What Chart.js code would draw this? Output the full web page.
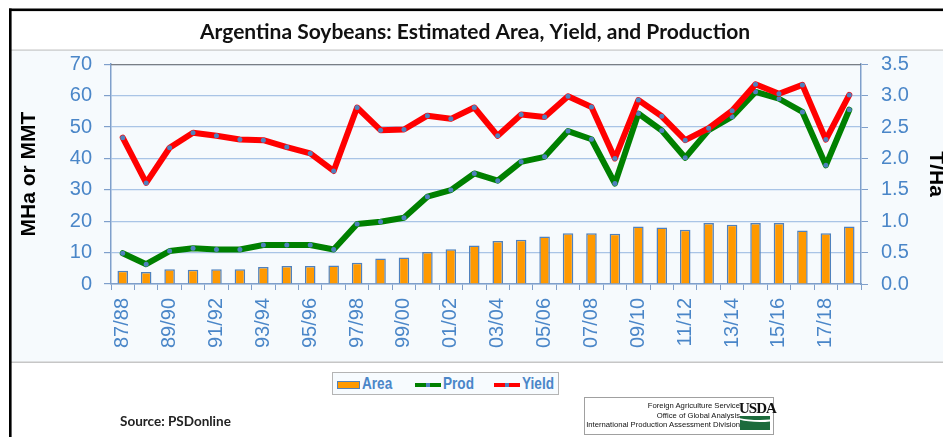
<!DOCTYPE html>
<html>
<head>
<meta charset="utf-8">
<script src="https://cdn.jsdelivr.net/npm/chart.js@4.4.1/dist/chart.umd.min.js"></script>
<style>
  html, body { margin: 0; padding: 0; overflow: hidden; background: #fff; }
  #wrap { position: relative; width: 943px; height: 437px; overflow: hidden; }
  #chart { position: absolute; left: 0; top: 0; }
  #legend {
    position: absolute; left: 332px; top: 372px; width: 225px; height: 21px;
    border: 1px solid #b4b4b4; background: #f7fbfe;
    font: bold 17px "Liberation Sans", Arial, sans-serif; color: #4a86c8;
  }
  #legend .item { position: absolute; top: 0; height: 21px; line-height: 21px; white-space: nowrap; }
  #legend .sw { display: inline-block; vertical-align: middle; margin-right: 2px; }
  #legend .lbl { display: inline-block; transform: scaleX(0.8); transform-origin: left center; }
  #source {
    position: absolute; left: 120px; top: 413px;
    font: bold 13.5px Lato, "Open Sans", sans-serif; color: #222;
  }
  #usda {
    position: absolute; left: 584px; top: 397px; width: 188px; height: 36px;
    border: 1px solid #a0a0a0; background: #fff;
  }
  #usda .txt {
    position: absolute; right: 33px; top: 3px; text-align: right;
    font: 7.7px/9.5px "Liberation Sans", Arial, sans-serif; color: #111; white-space: nowrap;
  }
  #usda .logo {
    position: absolute; right: 2px; top: 3px; width: 32px;
    font: bold 15px/14px "Liberation Serif", "DejaVu Serif", serif; color: #111; letter-spacing: -1px;
  }
  #usda .field {
    position: absolute; right: 3px; top: 18px; width: 30px; height: 14px;
    background: #1c6b3c; overflow: hidden;
  }
  #usda .field::before {
    content: ""; position: absolute; left: -10px; top: -12px; width: 60px; height: 16px;
    border-bottom: 2px solid #fff; border-radius: 50%;
  }
</style>
</head>
<body>
<div id="wrap">
  <canvas id="chart" width="950" height="437"></canvas>
  <div id="legend"></div>
  <div id="source">Source: PSDonline</div>
  <div id="usda">
    <div class="txt">Foreign Agriculture Service<br>Office of Global Analysis<br>International Production Assessment Division</div>
    <div class="logo">USDA</div>
    <div class="field"></div>
  </div>
</div>
<script>
// marketing years
var years = ['87/88','88/89','89/90','90/91','91/92','92/93','93/94','94/95','95/96','96/97',
             '97/98','98/99','99/00','00/01','01/02','02/03','03/04','04/05','05/06','06/07',
             '07/08','08/09','09/10','10/11','11/12','12/13','13/14','14/15','15/16','16/17',
             '17/18','18/19'];

// harvested area, million ha
var area = [4.2, 3.8, 4.7, 4.5, 4.7, 4.7, 5.4, 5.7, 5.7, 5.9,
            6.8, 8.1, 8.4, 10.2, 11.1, 12.3, 13.7, 14.1, 15.1, 16.2,
            16.2, 16.0, 18.3, 18.0, 17.3, 19.4, 18.9, 19.4, 19.4, 17.0,
            16.2, 18.3];

// production, million metric tons
var prod = [9.8, 6.3, 10.5, 11.4, 11.0, 11.0, 12.4, 12.4, 12.4, 11.0,
            19.1, 19.8, 21.1, 27.8, 29.9, 35.2, 32.9, 38.9, 40.5, 48.7,
            46.1, 32.0, 54.3, 48.9, 40.2, 49.0, 53.3, 61.2, 59.0, 54.8,
            37.8, 55.5];

// yield, t/ha
var yieldTHa = [2.33, 1.61, 2.17, 2.41, 2.36, 2.30, 2.29, 2.18, 2.08, 1.80,
                2.81, 2.45, 2.46, 2.68, 2.63, 2.81, 2.36, 2.70, 2.66, 2.99,
                2.82, 2.00, 2.93, 2.67, 2.29, 2.48, 2.76, 3.18, 3.03, 3.17,
                2.30, 3.01];

var leftTicks = [0, 10, 20, 30, 40, 50, 60, 70];
var rightTicks = [0, 0.5, 1, 1.5, 2, 2.5, 3, 3.5];

var tickBlue = '#4a86c8';
var axisBlue = '#7f9fcb';
var gridBlue = '#a9c4e6';
var dotBlue = '#4f81bd';

// background bands, frame and top border of the plot
var framePlugin = {
  id: 'frame',
  beforeDraw: function(chart) {
    var c = chart.ctx, w = chart.width, h = chart.height;
    c.save();
    c.fillStyle = '#fff';
    c.fillRect(0, 0, w, h);
    c.fillStyle = '#f6fafd';
    c.fillRect(11, 50, w, 312);
    c.fillStyle = '#c6c6c6';
    c.fillRect(11, 49.5, w, 1.2);
    c.fillRect(11, 361.5, w, 1.5);
    c.fillStyle = '#000';
    c.fillRect(9, 8.5, w, 2.6);
    c.fillRect(9, 8.5, 2.6, h);
    c.restore();
  },
  afterDraw: function(chart) {
    var a = chart.chartArea, c = chart.ctx;
    c.save();
    c.strokeStyle = '#6e6e6e';
    c.lineWidth = 1;
    c.beginPath();
    c.moveTo(a.left, a.top + 0.5);
    c.lineTo(a.right, a.top + 0.5);
    c.stroke();
    c.restore();
  }
};

var tickFont = { family: '"Liberation Sans", Arial, sans-serif', size: 20 };
var titleFont = { family: '"Liberation Sans", Arial, sans-serif', size: 21, weight: 'bold' };

var chart = new Chart(document.getElementById('chart').getContext('2d'), {
  type: 'bar',
  data: {
    labels: years,
    datasets: [
      {
        type: 'bar', label: 'Area', data: area, yAxisID: 'y', order: 3,
        backgroundColor: '#ff9900', borderColor: dotBlue, borderWidth: 1.5,
        barPercentage: 0.45, categoryPercentage: 1
      },
      {
        type: 'line', label: 'Prod', data: prod, yAxisID: 'y', order: 2,
        borderColor: '#008000', borderWidth: 6, tension: 0,
        borderJoinStyle: 'round', borderCapStyle: 'round',
        pointRadius: 2.5, pointBackgroundColor: dotBlue, pointBorderWidth: 0
      },
      {
        type: 'line', label: 'Yield', data: yieldTHa, yAxisID: 'y1', order: 1,
        borderColor: '#ff0000', borderWidth: 6, tension: 0,
        borderJoinStyle: 'round', borderCapStyle: 'round',
        pointRadius: 2.5, pointBackgroundColor: dotBlue, pointBorderWidth: 0
      }
    ]
  },
  options: {
    responsive: false,
    animation: false,
    events: [],
    layout: { padding: 0 },
    plugins: {
      legend: { display: false },
      tooltip: { enabled: false },
      title: {
        display: true,
        text: 'Argentina Soybeans: Estimated Area, Yield, and Production',
        color: '#111',
        font: { family: 'Lato, "Open Sans", sans-serif', size: 21, weight: 'bold' },
        padding: { top: 20, bottom: 19 }
      }
    },
    scales: {
      x: {
        offset: true,
        grid: { offset: true, drawOnChartArea: false, drawTicks: true, tickLength: 6, tickColor: axisBlue },
        border: { color: axisBlue, width: 1.5 },
        ticks: {
          color: tickBlue, font: tickFont, padding: 8,
          autoSkip: false, minRotation: 90, maxRotation: 90,
          callback: function(v, i) { return i % 2 === 0 ? this.getLabelForValue(v) : ''; }
        },
        afterFit: function(s) { s.height = 153; }
      },
      y: {
        position: 'left', min: 0, max: 70,
        afterBuildTicks: function(s) { s.ticks = leftTicks.map(function(v) { return { value: v }; }); },
        grid: { color: gridBlue, lineWidth: 1.2, tickLength: 7, tickColor: axisBlue },
        border: { color: axisBlue, width: 1.5 },
        ticks: { color: tickBlue, font: tickFont, padding: 12 },
        title: { display: true, text: 'MHa or MMT', color: '#000', font: titleFont, padding: { top: 17 } },
        afterFit: function(s) { s.width = 111; }
      },
      y1: {
        position: 'right', min: 0, max: 3.5,
        afterBuildTicks: function(s) { s.ticks = rightTicks.map(function(v) { return { value: v }; }); },
        grid: { drawOnChartArea: false, tickLength: 7, tickColor: axisBlue },
        border: { color: axisBlue, width: 1.5 },
        ticks: { color: tickBlue, font: tickFont, padding: 13, callback: function(v) { return v.toFixed(1); } },
        title: { display: true, text: 'T/Ha', color: '#000', font: titleFont, padding: { top: 1.4 } },
        afterFit: function(s) { s.width = 89; }
      }
    }
  },
  plugins: [framePlugin]
});

// legend built from the datasets
var legendPos = [4, 82, 161];
var legend = document.getElementById('legend');
chart.data.datasets.forEach(function(ds, i) {
  var item = document.createElement('div');
  item.className = 'item';
  item.style.left = legendPos[i] + 'px';
  var sw = document.createElement('span');
  sw.className = 'sw';
  if (ds.type === 'bar') {
    sw.style.width = '21px'; sw.style.height = '6px';
    sw.style.background = ds.backgroundColor;
    sw.style.border = '1px solid ' + ds.borderColor;
  } else {
    sw.style.width = '26px'; sw.style.height = '4px';
    sw.style.background = 'linear-gradient(to right,' + ds.borderColor + ' 44%,' + dotBlue + ' 44%,' + dotBlue + ' 56%,' + ds.borderColor + ' 56%)';
  }
  var lbl = document.createElement('span');
  lbl.className = 'lbl';
  lbl.textContent = ds.label;
  item.appendChild(sw);
  item.appendChild(lbl);
  legend.appendChild(item);
});
</script>
</body>
</html>
